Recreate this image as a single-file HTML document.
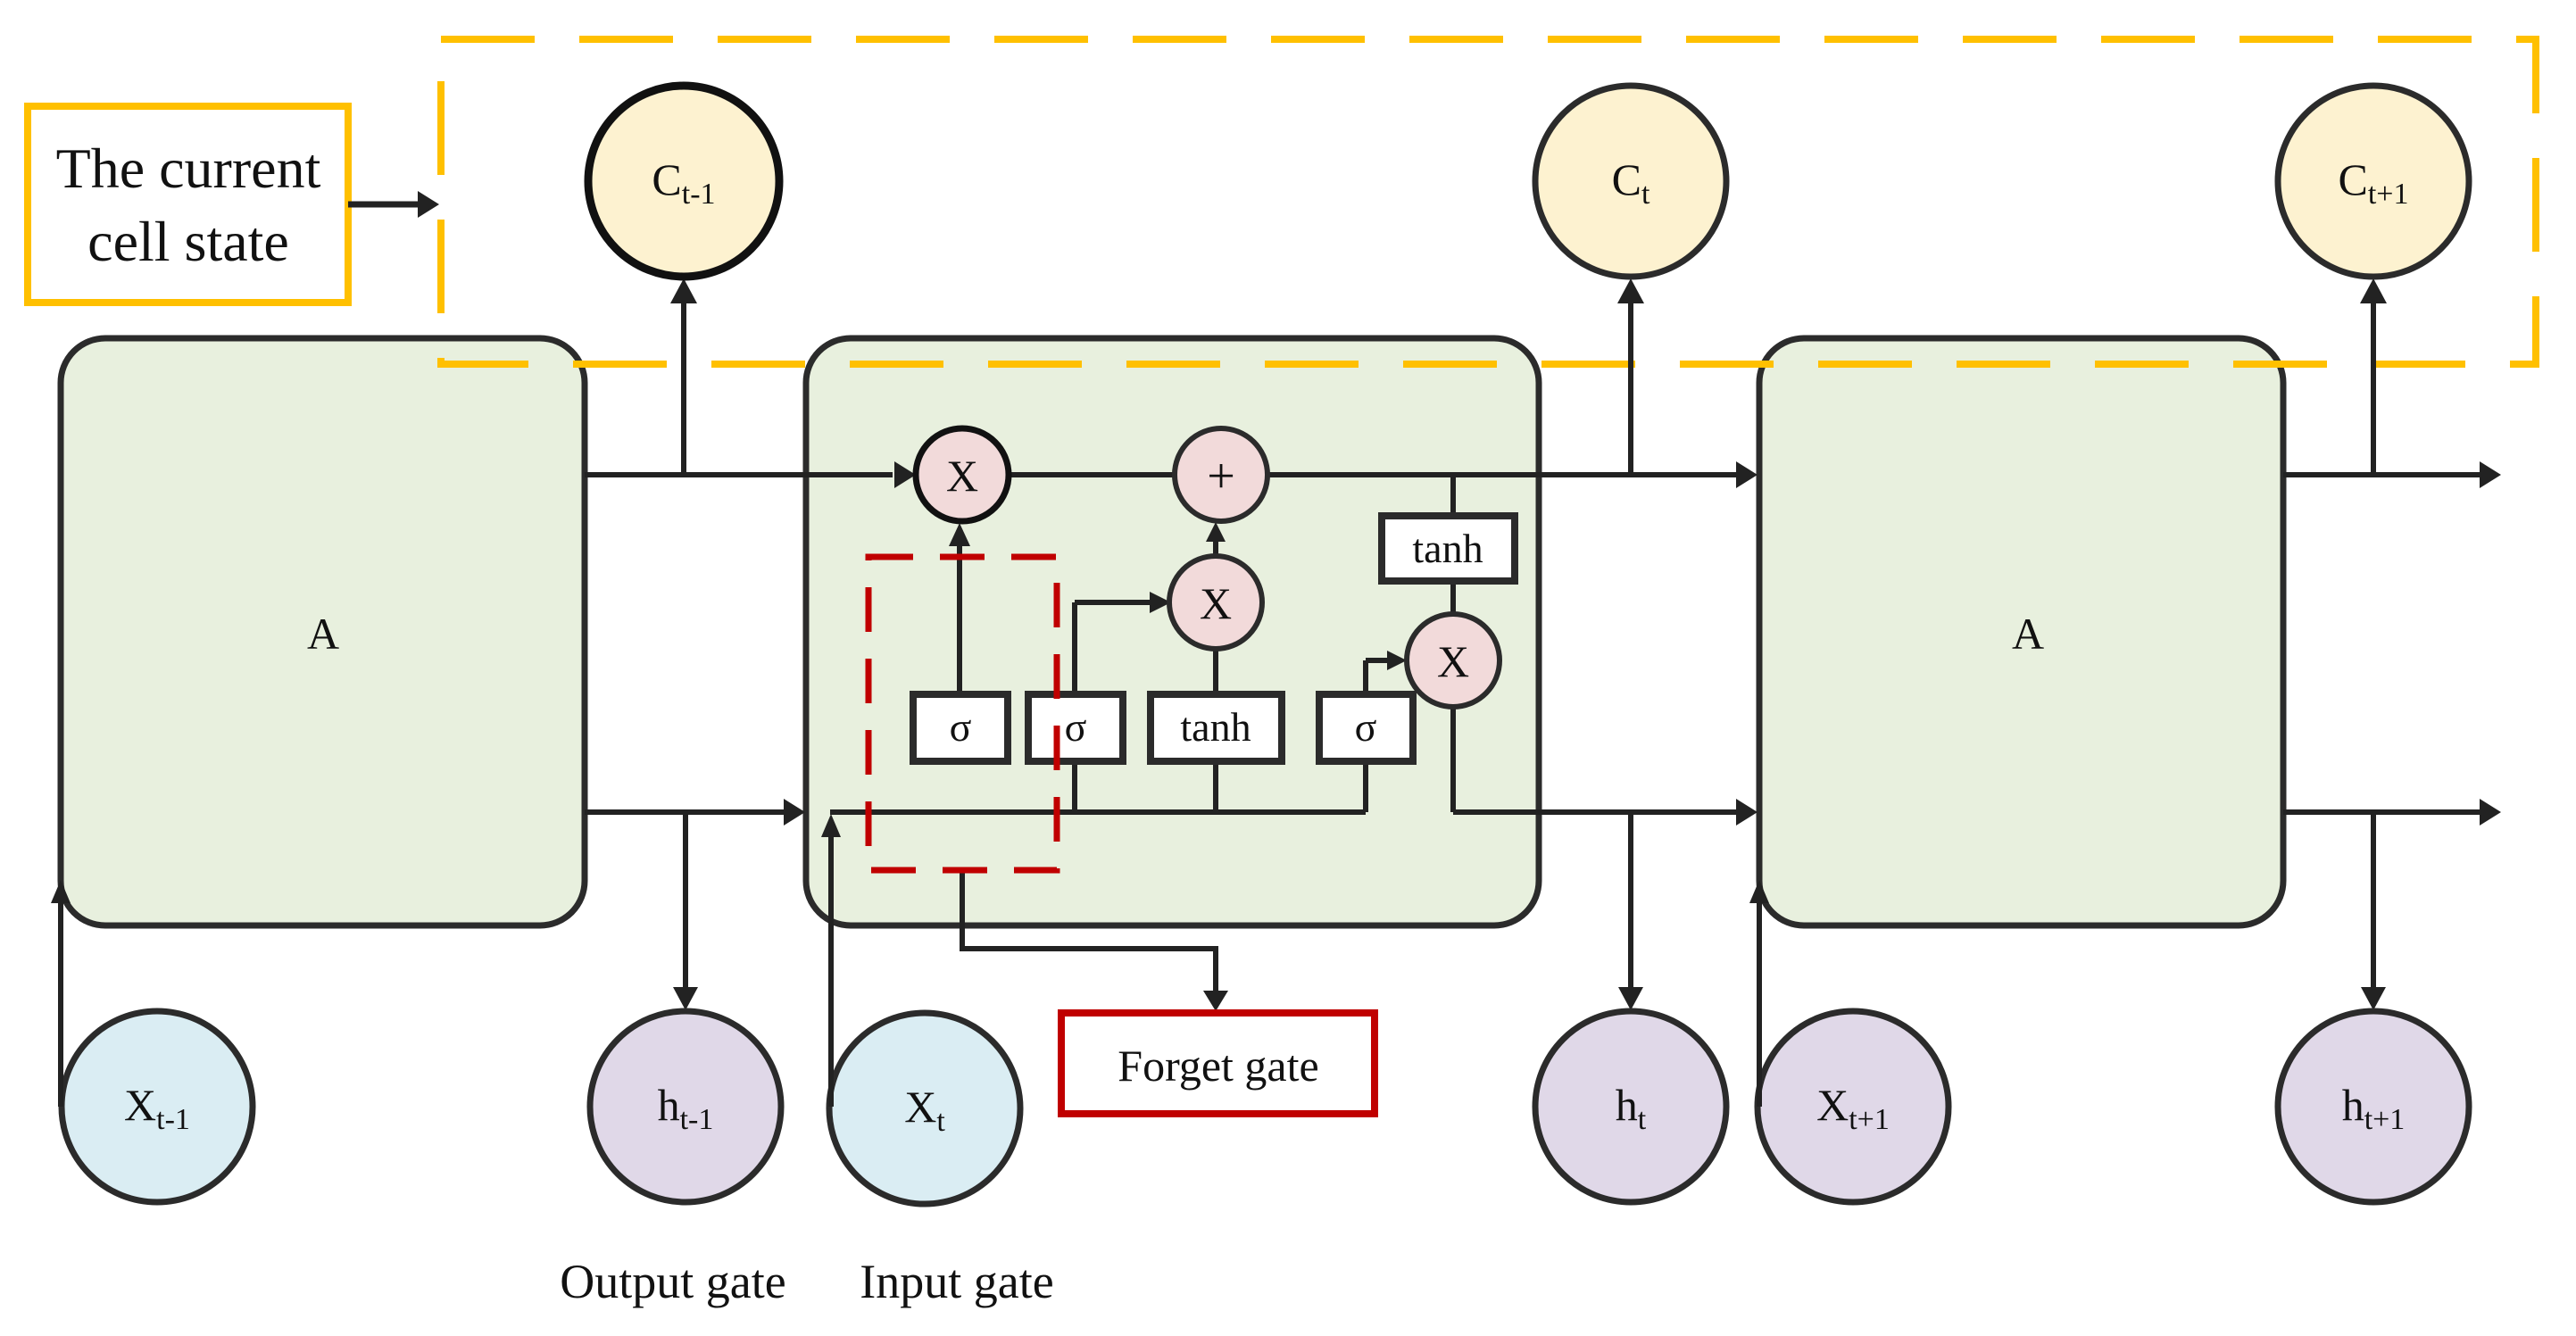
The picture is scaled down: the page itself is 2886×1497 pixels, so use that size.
<!DOCTYPE html>
<html><head><meta charset="utf-8"><style>
html,body{margin:0;padding:0;background:#fff;}
svg{display:block;}
text{font-family:"Liberation Serif",serif;fill:#111;}
</style></head><body>
<svg width="2886" height="1497" viewBox="0 0 2886 1497" xmlns="http://www.w3.org/2000/svg">
<!-- main boxes -->
<rect x="68" y="379" width="587" height="658" rx="50" fill="#e8f0de" stroke="#2b2b2b" stroke-width="7"/>
<rect x="903" y="379" width="821" height="658" rx="50" fill="#e8f0de" stroke="#2b2b2b" stroke-width="7"/>
<rect x="1971" y="379" width="587" height="658" rx="50" fill="#e8f0de" stroke="#2b2b2b" stroke-width="7"/>
<text x="362" y="727" font-size="50" text-anchor="middle">A</text>
<text x="2272" y="727" font-size="50" text-anchor="middle">A</text>

<!-- yellow dashed -->
<rect x="494" y="44" width="2347" height="364" fill="none" stroke="#ffc000" stroke-width="8" stroke-dasharray="105,50"/>
<rect x="31" y="119" width="359" height="220" fill="#fff" stroke="#ffc000" stroke-width="8"/>
<text x="211" y="210" font-size="64" text-anchor="middle">The current</text>
<text x="211" y="292" font-size="64" text-anchor="middle">cell state</text>
<line x1="390" y1="229" x2="470" y2="229" stroke="#222" stroke-width="7"/>
<polygon points="468,214 492,229 468,244" fill="#222"/>

<g stroke="#222" stroke-width="6" fill="none">
<line x1="655" y1="532" x2="1000" y2="532"/>
<line x1="1130" y1="532" x2="1316" y2="532"/>
<line x1="1420" y1="532" x2="1945" y2="532"/>
<line x1="2558" y1="532" x2="2780" y2="532"/>
<line x1="766" y1="532" x2="766" y2="340"/>
<line x1="1827" y1="532" x2="1827" y2="340"/>
<line x1="2659" y1="532" x2="2659" y2="340"/>
<line x1="655" y1="910" x2="880" y2="910"/>
<line x1="930" y1="910" x2="1530" y2="910"/>
<line x1="1628" y1="792" x2="1628" y2="910"/>
<line x1="1628" y1="910" x2="1945" y2="910"/>
<line x1="2558" y1="910" x2="2780" y2="910"/>
<line x1="768" y1="910" x2="768" y2="1110"/>
<line x1="1827" y1="910" x2="1827" y2="1110"/>
<line x1="2659" y1="910" x2="2659" y2="1110"/>
<line x1="1075" y1="774" x2="1075" y2="610"/>
<line x1="1204" y1="910" x2="1204" y2="855"/>
<line x1="1204" y1="774" x2="1204" y2="675"/>
<line x1="1204" y1="675" x2="1290" y2="675"/>
<line x1="1362" y1="910" x2="1362" y2="855"/>
<line x1="1362" y1="774" x2="1362" y2="727"/>
<line x1="1362" y1="623" x2="1362" y2="605"/>
<line x1="1530" y1="910" x2="1530" y2="855"/>
<line x1="1530" y1="774" x2="1530" y2="740"/>
<line x1="1530" y1="740" x2="1555" y2="740"/>
<line x1="1628" y1="688" x2="1628" y2="653"/>
<line x1="1628" y1="574" x2="1628" y2="532"/>
<polyline points="1078,975 1078,1063 1362,1063 1362,1112"/>
</g>
<g fill="#222">
<polygon points="1002,517 1026,532 1002,547"/>
<polygon points="1945,517 1969,532 1945,547"/>
<polygon points="2778,517 2802,532 2778,547"/>
<polygon points="751,340 766,312 781,340"/>
<polygon points="1812,340 1827,312 1842,340"/>
<polygon points="2644,340 2659,312 2674,340"/>
<polygon points="878,895 902,910 878,925"/>
<polygon points="1945,895 1969,910 1945,925"/>
<polygon points="2778,895 2802,910 2778,925"/>
<polygon points="754,1106 768,1132 782,1106"/>
<polygon points="1813,1106 1827,1132 1841,1106"/>
<polygon points="2645,1106 2659,1132 2673,1106"/>
<polygon points="57,1012 68,986 79,1012"/>
<polygon points="920,938 931,912 942,938"/>
<polygon points="1960,1012 1971,986 1982,1012"/>
<polygon points="1063,612 1075,586 1087,612"/>
<polygon points="1288,663 1312,675 1288,687"/>
<polygon points="1351,607 1362,585 1373,607"/>
<polygon points="1554,729 1576,740 1554,751"/>
<polygon points="1348,1110 1362,1133 1376,1110"/>
</g>

<g stroke="#2b2b2b" stroke-width="6" fill="#f2dada">
<circle cx="1078" cy="532" r="52" stroke="#111" stroke-width="7"/>
<circle cx="1368" cy="532" r="52"/>
<circle cx="1362" cy="675" r="52"/>
<circle cx="1628" cy="740" r="52"/>
</g>
<text x="1078" y="550" font-size="50" text-anchor="middle">X</text>
<text x="1368" y="552" font-size="56" text-anchor="middle">+</text>
<text x="1362" y="693" font-size="50" text-anchor="middle">X</text>
<text x="1628" y="758" font-size="50" text-anchor="middle">X</text>

<g fill="#fff" stroke="#2b2b2b" stroke-width="8">
<rect x="1023" y="778" width="106" height="75"/>
<rect x="1152" y="778" width="106" height="75"/>
<rect x="1289" y="778" width="147" height="75"/>
<rect x="1478" y="778" width="105" height="75"/>
<rect x="1548" y="578" width="149" height="73"/>
</g>
<g font-size="46" text-anchor="middle">
<text x="1076" y="830">σ</text>
<text x="1205" y="830">σ</text>
<text x="1362" y="830">tanh</text>
<text x="1530" y="830">σ</text>
<text x="1622" y="630">tanh</text>
</g>

<rect x="973" y="624" width="211" height="351" fill="none" stroke="#c00000" stroke-width="7" stroke-dasharray="50,30"/>
<rect x="1189" y="1135" width="351" height="113" fill="#fff" stroke="#c00000" stroke-width="8"/>
<text x="1365" y="1211" font-size="50" text-anchor="middle">Forget gate</text>

<g stroke-width="7" fill="#fdf2d0">
<circle cx="766" cy="203" r="107" stroke="#111" stroke-width="9"/>
<circle cx="1827" cy="203" r="107" stroke="#2b2b2b"/>
<circle cx="2659" cy="203" r="107" stroke="#2b2b2b"/>
</g>
<g font-size="50" text-anchor="middle">
<text x="766" y="218">C<tspan font-size="34" dy="10">t-1</tspan></text>
<text x="1827" y="218">C<tspan font-size="34" dy="10">t</tspan></text>
<text x="2659" y="218">C<tspan font-size="34" dy="10">t+1</tspan></text>
</g>

<g stroke="#2b2b2b" stroke-width="7">
<circle cx="176" cy="1240" r="107" fill="#daedf3"/>
<circle cx="768" cy="1240" r="107" fill="#e0d8e8"/>
<circle cx="1036" cy="1242" r="107" fill="#daedf3"/>
<circle cx="1827" cy="1240" r="107" fill="#e0d8e8"/>
<circle cx="2076" cy="1240" r="107" fill="#e0d8e8"/>
<circle cx="2659" cy="1240" r="107" fill="#e0d8e8"/>
</g>
<line x1="68" y1="1240" x2="68" y2="1010" stroke="#222" stroke-width="6"/>
<line x1="931" y1="1240" x2="931" y2="935" stroke="#222" stroke-width="6"/>
<line x1="1971" y1="1240" x2="1971" y2="1010" stroke="#222" stroke-width="6"/>
<g font-size="50" text-anchor="middle">
<text x="176" y="1255">X<tspan font-size="34" dy="10">t-1</tspan></text>
<text x="768" y="1255">h<tspan font-size="34" dy="10">t-1</tspan></text>
<text x="1036" y="1257">X<tspan font-size="34" dy="10">t</tspan></text>
<text x="1827" y="1255">h<tspan font-size="34" dy="10">t</tspan></text>
<text x="2076" y="1255">X<tspan font-size="34" dy="10">t+1</tspan></text>
<text x="2659" y="1255">h<tspan font-size="34" dy="10">t+1</tspan></text>
</g>
<text x="754" y="1454" font-size="54" text-anchor="middle">Output gate</text>
<text x="1072" y="1454" font-size="54" text-anchor="middle">Input gate</text>
</svg>
</body></html>
